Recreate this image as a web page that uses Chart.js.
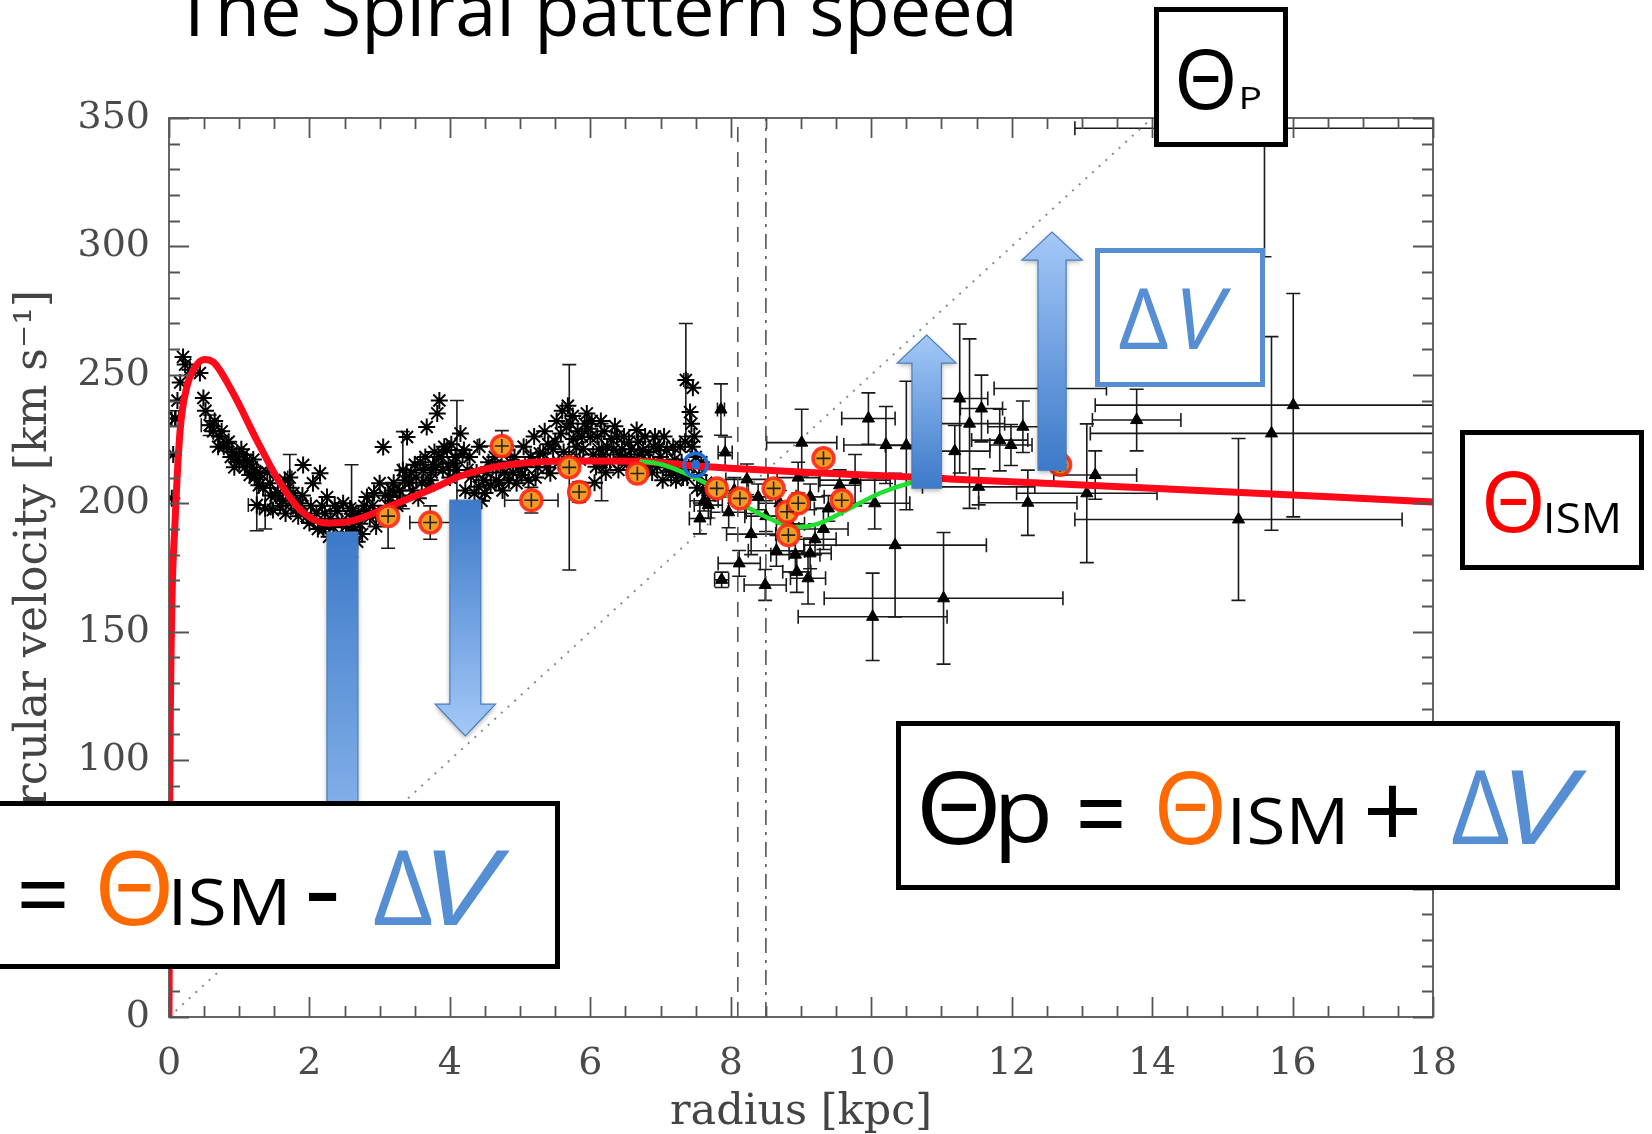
<!DOCTYPE html>
<html>
<head>
<meta charset="utf-8">
<title>The Spiral pattern speed</title>
<script src="https://cdn.jsdelivr.net/npm/chart.js@4.4.1/dist/chart.umd.min.js"></script>
<style>
  html, body { margin: 0; padding: 0; background: #fff; }
  canvas { display: block; }
</style>
</head>
<body>
<canvas id="rc" width="1652" height="1134"></canvas>
<script>
// rotation curve of the ISM (red)
const ismR = [0, 0.012, 0.038, 0.085, 0.157, 0.26, 0.36, 0.5, 0.63, 0.91, 1.25, 1.58, 1.87, 2.25, 2.53, 3.19, 3.86, 4.14, 4.81, 5.75, 6.71, 7.5, 11.12, 14, 18];
const ismV = [0, 90, 156, 192, 228, 246, 252.5, 256, 255, 243, 224.6, 208, 197.4, 192.3, 192.7, 199.3, 207, 210.5, 214.9, 216.5, 216.4, 214.5, 209.5, 205.9, 200.5];

// perturbed curve (green)
const pertR = [6.7, 7.0, 7.3, 7.75, 8.23, 8.7, 8.94, 9.27, 9.65, 10.13, 10.55, 10.75];
const pertV = [216.4, 215.2, 212.3, 206.3, 198.5, 192.3, 190.7, 192.3, 197.4, 204, 207.9, 209];

// pattern speed line Theta_p = Omega_p * R (dotted)
const patR = [0, 18];
const patV = [0, 450];

// solar radius markers
const r0Dashed = 8.1;
const r0DashDot = 8.5;

// sun position (blue circle)
const sunR = [7.5];
const sunV = [215];

// terminal velocity data (asterisks)
const starR = [0.04, 0.06, 0.09, 0.12, 0.16, 0.2, 0.23, 0.3, 0.44, 0.49, 0.52, 0.63, 0.72, 0.78, 0.82, 0.88, 0.9, 0.96, 1.03, 1.08, 1.11, 1.18, 1.22, 1.25, 1.3, 1.34, 1.44, 1.48, 1.52, 1.55, 1.62, 1.66, 1.7, 1.77, 1.81, 1.87, 1.91, 1.96, 2.0, 2.05, 2.1, 2.15, 2.18, 2.2, 2.25, 2.28, 2.3, 2.34, 2.4, 2.44, 2.48, 2.52, 2.55, 2.6, 2.62, 2.68, 2.7, 2.75, 2.78, 2.82, 2.86, 2.9, 2.95, 3.0, 3.05, 3.08, 3.1, 3.15, 3.2, 3.25, 3.28, 3.39, 3.42, 3.47, 3.52, 3.55, 3.58, 3.62, 3.67, 3.7, 3.72, 3.76, 3.78, 3.82, 3.85, 3.84, 3.9, 3.96, 4.0, 4.05, 4.15, 4.18, 4.2, 4.25, 4.3, 4.35, 4.41, 4.45, 4.48, 4.55, 4.61, 4.66, 4.7, 4.78, 4.81, 4.86, 4.9, 4.95, 5.02, 5.07, 5.12, 5.15, 5.22, 5.28, 5.33, 5.38, 5.43, 5.47, 5.5, 5.55, 5.58, 5.62, 5.66, 5.72, 5.76, 5.8, 5.85, 5.88, 5.92, 5.95, 6.0, 6.04, 6.08, 6.12, 6.2, 6.24, 6.28, 6.33, 6.38, 6.4, 6.45, 6.5, 6.55, 6.61, 6.66, 6.7, 6.75, 6.8, 6.85, 6.9, 6.95, 7.0, 7.03, 7.09, 7.12, 7.15, 7.2, 7.25, 7.28, 7.32, 7.42, 7.46, 7.45, 7.4, 7.5, 7.55, 7.58, 7.6, 7.65, 7.7,
  5.05, 5.2, 5.25, 5.35, 5.4, 5.52, 5.6, 5.68, 5.7, 5.75, 5.82, 5.9, 5.97, 6.02, 6.06, 6.1, 6.15, 6.18, 6.22, 6.3, 6.35, 6.42, 6.48, 6.52, 6.58, 6.63, 6.68, 6.72, 6.78, 6.83, 6.88, 6.92, 6.98, 7.05, 7.08, 7.18, 7.22, 7.3, 7.35, 7.38, 7.48, 7.52, 7.44,
  4.02, 4.08, 4.22, 4.28, 4.38, 4.42, 4.5, 4.52, 4.58, 4.64, 4.72, 4.75, 4.84, 4.92, 4.98,
  0.65, 0.7, 0.75, 0.85, 0.93, 1.0, 1.06, 1.15, 1.2, 1.28, 1.4, 1.45, 1.58, 1.65, 1.74, 1.84, 1.9,
  2.02, 2.12, 2.22, 2.36, 2.46, 2.58, 2.64, 2.72, 2.8, 2.92, 2.98,
  3.12, 3.18, 3.3, 3.36, 3.45, 3.5, 3.6, 3.65, 3.74, 3.8, 3.88, 3.92, 3.98];
const starV = [202, 219, 233, 240, 247, 257, 254, 252, 250.7, 241, 236, 228, 226, 222, 223.4, 218, 220, 218, 221, 214, 216.8, 214, 210, 212, 211.7, 206, 207.8, 197.4, 203, 204, 201, 196, 206, 204, 198, 200, 214.9, 195, 192.3, 207.8, 196, 211.7, 199, 190, 202.4, 187, 194, 190.7, 197, 186, 200, 191, 187, 194, 190.7, 185, 196, 188, 199, 202.4, 194.6, 199, 191, 207.8, 221.9, 203, 196, 202.4, 208, 199, 205, 225.8, 208, 205, 210, 202, 216, 213, 229.7, 207, 209, 215, 220, 235, 240, 218, 213, 220.7, 210, 215.6, 227.2, 219, 220.7, 213, 210.3, 204, 206.4, 201, 209, 216, 214.2, 209, 208, 212, 220.7, 216, 212, 207.8, 211, 214.2, 209, 218, 210, 219.5, 219.4, 214, 211.7, 221, 224, 216, 227.2, 220, 229.7, 231.1, 225, 222, 217, 226, 231, 235, 225.8, 219, 214.2, 221, 228, 222, 216, 220.7, 226, 213, 221, 218, 224, 213, 228.5, 219, 220.7, 214, 216, 222, 214.2, 218, 209, 220.7, 214, 211, 217, 213, 222, 210, 235.5, 245, 222, 214, 218, 211, 216, 205, 208, 203,
  222, 226, 214, 228, 223, 232, 236, 238, 218, 234, 228, 221, 229, 232, 208, 226, 232, 219, 212, 225, 230, 219, 226, 215, 221, 217, 224, 212, 226, 220, 212, 226, 222, 226, 214, 222, 209, 216, 224, 210, 226, 206, 231,
  223, 218, 205, 218, 212, 222, 204, 212, 207, 218, 214, 205, 209, 218, 214,
  232, 222, 228, 224, 214, 216, 219, 211, 217, 207, 212, 203, 199, 209, 200, 195, 203,
  199, 190, 196, 199, 193, 198, 188, 192, 197, 204, 196,
  199, 205, 201, 209, 212, 215, 208, 218, 212, 214, 218, 222, 214];

// asterisks that carry error bars
const starBarR = [0.09, 0.58, 1.25, 1.37, 1.72, 2.6, 3.33, 4.1, 6.16, 7.36];
const starBarV = [233, 230.4, 199.3, 198, 210, 197, 212.9, 213, 216, 248];
const starBarRErr = [0.05, 0.12, 0.12, 0.08, 0.03, 0.02, 0.05, 0.03, 0.03, 0.03];
const starBarVErr = [3, 4, 10, 8, 9, 18, 15, 27, 15, 22];

// maser / HII data (orange circles)
const orR = [3.12, 3.72, 4.74, 5.16, 5.7, 5.84, 6.67, 7.8, 8.13, 8.61, 8.8, 8.96, 8.82, 9.32, 9.58, 12.69];
const orV = [195, 192.5, 222.3, 201.2, 214, 204.4, 211.6, 205.8, 201.9, 205.8, 196.7, 200, 187.6, 217.5, 201.2, 215];
const orRErr = [0.05, 0.29, 0.35, 0.38, 0.03, 0.05, 0.05, 0.05, 0.05, 0.05, 0.05, 0.05, 0.05, 0.05, 0.05, 0.1];
const orVErr = [12.5, 6.5, 6, 5, 40, 4, 3, 3, 3, 3, 3, 3, 3, 3, 3, 4];

// outer disk data (triangles)
const triR = [7.56, 7.62, 7.68, 7.86, 7.92, 7.87, 7.97, 8.05, 8.12, 8.23, 8.29, 8.39, 8.49, 8.5, 8.65, 8.7, 8.85, 8.92, 8.94, 9.1, 9.13, 9.2, 9.32, 9.39, 8.96, 9.13, 9.01, 9.55, 9.77, 9.96, 10.05, 10.21, 10.5, 10.34, 10.02, 11.03, 11.26, 11.57, 11.4, 11.19, 11.83, 11.99, 12.16, 11.53, 12.23, 12.55, 13.07, 13.19, 13.78, 15.23, 15.7, 16.01, 15.6];
const triV = [194.1, 201, 199.3, 236.5, 219.8, 170.2, 196.5, 205, 176.6, 209.3, 188, 202.5, 168.2, 195, 181.5, 200, 192, 180, 173.3, 170.8, 180.5, 186, 190, 198, 210, 202.5, 223.6, 207, 209, 233, 200, 222.7, 222.5, 183.7, 155.8, 163, 240.8, 236.9, 231, 220.3, 224.6, 222.7, 229.8, 206.4, 200.2, 244.7, 203.9, 211, 232.4, 193.7, 227.2, 238.2, 346];
const triRErr = [0.15, 0.2, 0.2, 0.05, 0.1, 0.1, 0.25, 0.2, 0.3, 0.3, 0.35, 0.25, 0.3, 0.3, 0.4, 0.3, 0.2, 0.35, 0.2, 0.25, 0.3, 0.3, 0.35, 0.2, 0.3, 0.2, 0.5, 0.3, 0.5, 0.38, 0.5, 0.6, 0.3, 1.3, 1.06, 1.7, 0.4, 0.3, 0.5, 0.5, 0.4, 0.3, 0.5, 0.8, 0.7, 0.8, 1.0, 0.59, 0.63, 2.33, 2.58, 2.82, 2.7];
const triVErr = [6, 4, 5, 10, 6, 3, 6, 5, 5, 6, 8, 5, 6, 6, 6, 5, 5, 7, 8, 10, 6, 6, 8, 5, 6, 5, 13, 6, 10, 10, 10, 15, 25, 28, 17, 25.6, 29, 13, 33, 10, 12, 8, 10, 7, 12.7, 8, 27, 9.4, 12, 31.5, 37.7, 43.5, 50];

// axis ticks
const xMax = 18, xStep = 2, xMinor = 0.5;
const yMax = 350, yStep = 50, yMinor = 10;

// blue arrows, in data units (centre radius, half widths, tail / head base / tip velocity)
const arrows = [
  {r: 2.47, half: 0.22, head: 0.43, tail: 188.8, base: 60, tip: 30},
  {r: 4.22, half: 0.22, head: 0.43, tail: 201.2, base: 121.8, tip: 109.4},
  {r: 10.79, half: 0.21, head: 0.42, tail: 205.9, base: 254.6, tip: 265.5},
  {r: 12.575, half: 0.2, head: 0.43, tail: 212.9, base: 294.7, tip: 305.6}
];

const pts = (xs, ys) => xs.map((x, i) => ({x: x, y: ys[i]}));

const errorBars = {
  id: 'errorBars',
  beforeDatasetsDraw(chart) {
    const {ctx, chartArea: a, scales: {x, y}} = chart;
    ctx.save();
    ctx.beginPath();
    ctx.rect(a.left, a.top, a.right - a.left, a.bottom - a.top);
    ctx.clip();
    chart.data.datasets.forEach(ds => {
      if (!ds.errX) return;
      ctx.strokeStyle = '#1a1a1a';
      ctx.lineWidth = 1.6;
      const cap = 7;
      ds.data.forEach((p, i) => {
        const px = x.getPixelForValue(p.x), py = y.getPixelForValue(p.y);
        const ex = ds.errX[i], ey = ds.errY[i];
        ctx.beginPath();
        if (ex > 0) {
          const x0 = x.getPixelForValue(p.x - ex), x1 = x.getPixelForValue(p.x + ex);
          ctx.moveTo(x0, py); ctx.lineTo(x1, py);
          ctx.moveTo(x0, py - cap); ctx.lineTo(x0, py + cap);
          ctx.moveTo(x1, py - cap); ctx.lineTo(x1, py + cap);
        }
        if (ey > 0) {
          const y0 = y.getPixelForValue(p.y - ey), y1 = y.getPixelForValue(p.y + ey);
          ctx.moveTo(px, y0); ctx.lineTo(px, y1);
          ctx.moveTo(px - cap, y0); ctx.lineTo(px + cap, y0);
          ctx.moveTo(px - cap, y1); ctx.lineTo(px + cap, y1);
        }
        ctx.stroke();
      });
    });
    ctx.restore();
  }
};

// IDL style frame with inward ticks on all four sides
const idlFrame = {
  id: 'idlFrame',
  afterDatasetsDraw(chart) {
    const {ctx, chartArea: a, scales: {x, y}} = chart;
    ctx.save();
    ctx.strokeStyle = '#555';
    ctx.lineWidth = 1.8;
    ctx.strokeRect(a.left, a.top, a.right - a.left, a.bottom - a.top);
    ctx.beginPath();
    for (let v = 0; v <= xMax + 1e-9; v += xMinor) {
      const px = Math.round(x.getPixelForValue(v)) + 0.5;
      const len = Math.abs(v / xStep - Math.round(v / xStep)) < 1e-6 ? 20 : 11;
      ctx.moveTo(px, a.bottom); ctx.lineTo(px, a.bottom - len);
      ctx.moveTo(px, a.top); ctx.lineTo(px, a.top + len);
    }
    for (let v = 0; v <= yMax + 1e-9; v += yMinor) {
      const py = Math.round(y.getPixelForValue(v)) + 0.5;
      const len = Math.abs(v / yStep - Math.round(v / yStep)) < 1e-6 ? 20 : 11;
      ctx.moveTo(a.left, py); ctx.lineTo(a.left + len, py);
      ctx.moveTo(a.right, py); ctx.lineTo(a.right - len, py);
    }
    ctx.stroke();
    ctx.restore();
  }
};

// fit a string so its ink fills the given box [left, top, right, bottom]
function inkText(ctx, str, box, color, italic) {
  ctx.save();
  ctx.font = (italic ? 'italic ' : '') + '100px "Open Sans"';
  const m = ctx.measureText(str);
  const w = m.actualBoundingBoxLeft + m.actualBoundingBoxRight;
  const h = m.actualBoundingBoxAscent + m.actualBoundingBoxDescent;
  const sx = (box[2] - box[0]) / w, sy = (box[3] - box[1]) / h;
  ctx.translate(box[0] + m.actualBoundingBoxLeft * sx, box[1] + m.actualBoundingBoxAscent * sy);
  ctx.scale(sx, sy);
  ctx.fillStyle = color;
  ctx.textBaseline = 'alphabetic';
  ctx.fillText(str, 0, 0);
  ctx.restore();
}

function frameBox(ctx, x0, y0, x1, y1, color) {
  ctx.save();
  ctx.fillStyle = '#fff';
  ctx.fillRect(x0, y0, x1 - x0, y1 - y0);
  ctx.lineWidth = 5;
  ctx.strokeStyle = color;
  ctx.strokeRect(x0 + 2.5, y0 + 2.5, x1 - x0 - 5, y1 - y0 - 5);
  ctx.restore();
}

function drawArrow(ctx, x, y, a) {
  const cx = x.getPixelForValue(a.r);
  const hw = x.getPixelForValue(a.r + a.half) - cx;
  const hh = x.getPixelForValue(a.r + a.head) - cx;
  const yt = y.getPixelForValue(a.tail), yb = y.getPixelForValue(a.base), yp = y.getPixelForValue(a.tip);
  const g = ctx.createLinearGradient(0, yt, 0, yp);
  g.addColorStop(0, '#3c79c8');
  g.addColorStop(1, '#a4c9f8');
  ctx.save();
  ctx.beginPath();
  ctx.moveTo(cx - hw, yt); ctx.lineTo(cx - hw, yb); ctx.lineTo(cx - hh, yb);
  ctx.lineTo(cx, yp);
  ctx.lineTo(cx + hh, yb); ctx.lineTo(cx + hw, yb); ctx.lineTo(cx + hw, yt);
  ctx.closePath();
  ctx.shadowColor = 'rgba(0,0,0,0.35)';
  ctx.shadowBlur = 5;
  ctx.shadowOffsetY = 2;
  ctx.fillStyle = g;
  ctx.fill();
  ctx.shadowColor = 'transparent';
  ctx.strokeStyle = '#4a7ebb';
  ctx.lineWidth = 1.2;
  ctx.stroke();
  ctx.restore();
}

const slideOverlay = {
  id: 'slideOverlay',
  afterDraw(chart) {
    const {ctx, scales: {x, y}} = chart;
    arrows.forEach(a => drawArrow(ctx, x, y, a));

    // slide title, cut off at the top edge
    ctx.save();
    ctx.font = '100px "Open Sans"';
    const t = 'The Spiral pattern speed';
    const m = ctx.measureText(t);
    const s = 838 / (m.actualBoundingBoxLeft + m.actualBoundingBoxRight);
    ctx.font = (100 * s).toFixed(1) + 'px "Open Sans"';
    ctx.fillStyle = '#000';
    ctx.fillText(t, 174 + m.actualBoundingBoxLeft * s, 36);
    ctx.restore();

    const blue = '#568ed4', orange = '#ff6a00', red = '#ff0000';

    frameBox(ctx, 1154, 7, 1288, 147, '#000');
    inkText(ctx, 'Θ', [1179, 49, 1233, 110], '#000');
    inkText(ctx, 'P', [1242, 87, 1260, 109], '#000');

    frameBox(ctx, 1095, 248, 1265, 387, blue);
    inkText(ctx, 'Δ', [1119, 289, 1168, 349], blue);
    inkText(ctx, 'V', [1182, 289, 1232, 349], blue, true);

    frameBox(ctx, 1460, 430, 1644, 570, '#000');
    inkText(ctx, 'Θ', [1486, 471, 1541, 533], red);
    inkText(ctx, 'ISM', [1547, 502, 1618, 533], '#000');

    frameBox(ctx, 896, 721, 1620, 890, '#000');
    inkText(ctx, 'Θ', [922, 770, 996, 845], '#000');
    inkText(ctx, 'p', [1001, 793, 1048, 863], '#000');
    inkText(ctx, '=', [1080, 800, 1122, 828], '#000');
    inkText(ctx, 'Θ', [1159, 770, 1222, 845], orange);
    inkText(ctx, 'ISM', [1233, 797, 1343, 845], '#000');
    inkText(ctx, '+', [1368, 785, 1417, 837], '#000');
    inkText(ctx, 'Δ', [1452, 770, 1509, 844], blue);
    inkText(ctx, 'V', [1511, 770, 1588, 844], blue, true);

    frameBox(ctx, -10, 801, 560, 969, '#000');
    inkText(ctx, '=', [21, 882, 65, 908], '#000');
    inkText(ctx, 'Θ', [100, 850, 169, 926], orange);
    inkText(ctx, 'ISM', [174, 878, 285, 926], '#000');
    inkText(ctx, '-', [309, 892, 337, 901], '#000');
    inkText(ctx, 'Δ', [374, 850, 432, 925], blue);
    inkText(ctx, 'V', [433, 850, 511, 925], blue, true);
  }
};

const tickFont = {family: 'DejaVu Serif', size: 38};

new Chart(document.getElementById('rc'), {
  type: 'scatter',
  data: {
    datasets: [
      {
        label: 'sun', data: pts(sunR, sunV), order: 0,
        pointStyle: 'circle', pointRadius: 11.5, borderWidth: 3.5,
        borderColor: '#1f6fdc', backgroundColor: 'rgba(0,0,0,0)'
      },
      {
        label: 'sun dot', data: pts(sunR, sunV), order: 0,
        pointStyle: 'circle', pointRadius: 4.5, borderWidth: 0,
        backgroundColor: '#1f6fdc'
      },
      {
        label: 'maser cross', data: pts(orR, orV), order: 1,
        pointStyle: 'cross', pointRadius: 7, borderWidth: 1.6, borderColor: '#222'
      },
      {
        label: 'maser', data: pts(orR, orV), order: 2,
        errX: orRErr, errY: orVErr,
        pointStyle: 'circle', pointRadius: 10.5, borderWidth: 3.5,
        borderColor: 'rgba(255,40,20,0.9)', backgroundColor: '#f39a22'
      },
      {
        label: 'perturbed', data: pts(pertR, pertV), order: 3,
        showLine: true, pointRadius: 0, borderWidth: 4.5,
        borderColor: '#22e032', cubicInterpolationMode: 'monotone'
      },
      {
        label: 'ISM', data: pts(ismR, ismV), order: 4,
        showLine: true, pointRadius: 0, borderWidth: 7,
        borderColor: '#ff0a1a', cubicInterpolationMode: 'monotone'
      },
      {
        label: 'outer', data: pts(triR, triV), order: 5,
        errX: triRErr, errY: triVErr,
        pointStyle: 'triangle', pointRadius: 7, borderWidth: 1,
        borderColor: '#000', backgroundColor: '#000'
      },
      {
        label: 'terminal err', data: pts(starBarR, starBarV), order: 6,
        errX: starBarRErr, errY: starBarVErr,
        pointStyle: 'star', pointRadius: 8.5, borderWidth: 2, borderColor: '#000'
      },
      {
        label: 'terminal', data: pts(starR, starV), order: 6,
        pointStyle: 'star', pointRadius: 8.5, borderWidth: 2, borderColor: '#000'
      },
      {
        label: 'pattern', data: pts(patR, patV), order: 7,
        showLine: true, pointRadius: 0, borderWidth: 2,
        borderColor: '#8a8a8a', borderDash: [2, 7]
      },
      {
        label: 'R0 a', data: [{x: r0Dashed, y: 0}, {x: r0Dashed, y: yMax}], order: 8,
        showLine: true, pointRadius: 0, borderWidth: 1.6,
        borderColor: '#555', borderDash: [15, 10]
      },
      {
        label: 'R0 b', data: [{x: r0DashDot, y: 0}, {x: r0DashDot, y: yMax}], order: 8,
        showLine: true, pointRadius: 0, borderWidth: 1.6,
        borderColor: '#555', borderDash: [15, 7, 3, 7]
      }
    ]
  },
  options: {
    responsive: false,
    devicePixelRatio: 1,
    animation: false,
    events: [],
    layout: {padding: {top: 118, right: 219, left: 0, bottom: 0}},
    plugins: {legend: {display: false}, tooltip: {enabled: false}},
    scales: {
      x: {
        type: 'linear', min: 0, max: xMax,
        grid: {display: false, drawTicks: false},
        border: {display: false},
        ticks: {stepSize: xStep, font: tickFont, color: '#4a4a4a', padding: 24, maxRotation: 0},
        title: {display: true, text: 'radius [kpc]', color: '#444',
                font: {family: 'DejaVu Serif', size: 43, lineHeight: 1.0}, padding: {top: 0, bottom: 0}},
        afterFit: s => { s.height = 117; }
      },
      y: {
        type: 'linear', min: 0, max: yMax,
        grid: {display: false, drawTicks: false},
        border: {display: false},
        ticks: {stepSize: yStep, font: tickFont, color: '#4a4a4a', padding: 19},
        title: {display: true, text: 'circular velocity [km s⁻¹]', color: '#444',
                font: {family: 'DejaVu Serif', size: 44}, padding: {top: 8, bottom: 0}},
        afterFit: s => { s.width = 169; }
      }
    }
  },
  plugins: [errorBars, idlFrame, slideOverlay]
});
</script>
</body>
</html>
